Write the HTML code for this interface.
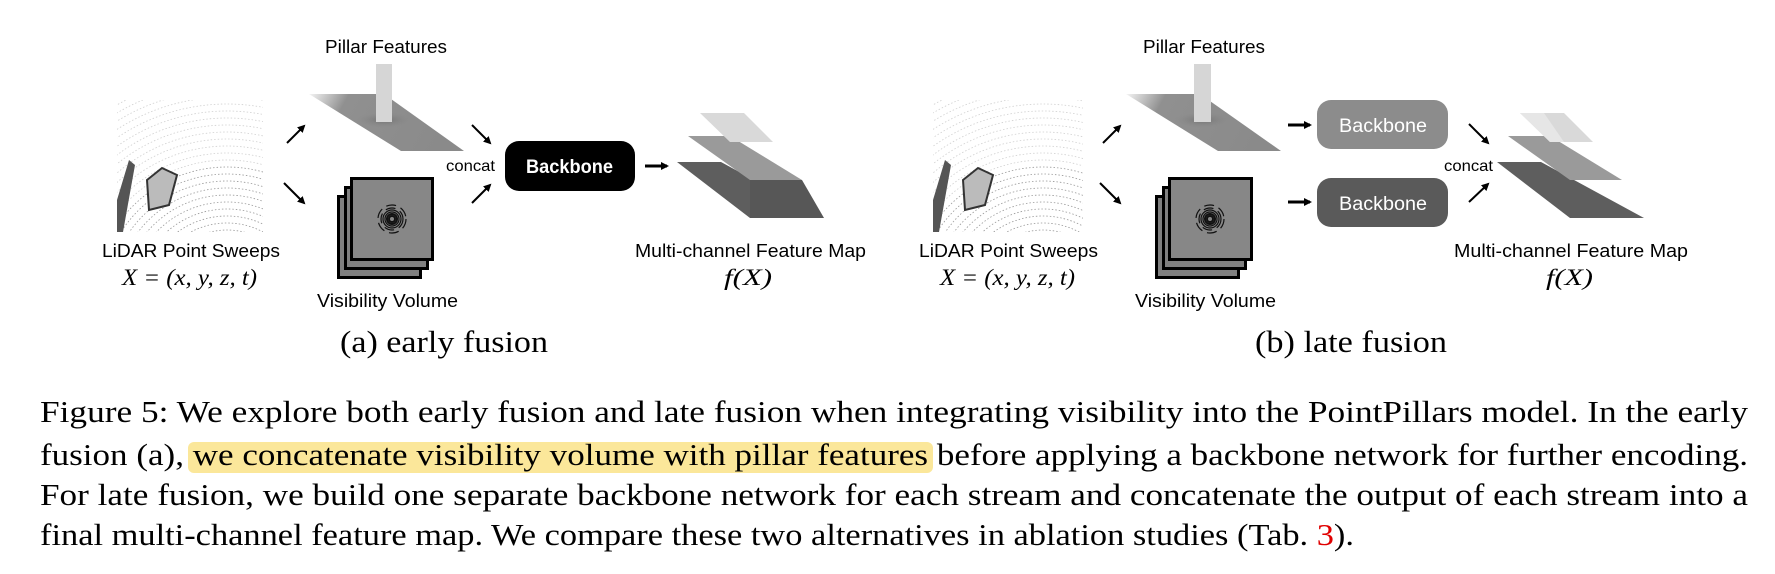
<!DOCTYPE html>
<html><head><meta charset="utf-8">
<style>
html,body{margin:0;padding:0;background:#fff;}
svg{display:block;}
.sans{font-family:"Liberation Sans",Arial,sans-serif;}
.serif{font-family:"Liberation Serif","Times New Roman",serif;}
</style></head>
<body>
<svg id="fig" width="1775" height="574" viewBox="0 0 1775 574" xmlns="http://www.w3.org/2000/svg">
<defs>
  <marker id="ah" markerWidth="8" markerHeight="8" refX="6" refY="4" orient="auto" markerUnits="userSpaceOnUse">
    <path d="M0,0 L8,4 L0,8 Z" fill="#000"/>
  </marker>
  <linearGradient id="planeGrad" x1="0" y1="0" x2="1" y2="0.2">
    <stop offset="0" stop-color="#f4f4f4"/>
    <stop offset="0.25" stop-color="#909090"/>
    <stop offset="1" stop-color="#8a8a8a"/>
  </linearGradient>
  <radialGradient id="shadow" cx="0.5" cy="0.5" r="0.5">
    <stop offset="0" stop-color="#666" stop-opacity="0.7"/>
    <stop offset="1" stop-color="#888" stop-opacity="0"/>
  </radialGradient>
  <clipPath id="lidarClipA"><rect x="117" y="100" width="146" height="132"/></clipPath>
  <clipPath id="lidarClipB"><rect x="933" y="100" width="150" height="132"/></clipPath>
</defs>

<!-- ===== Panel (a) early fusion ===== -->
<g id="panelA">
  <g id="lidarA" clip-path="url(#lidarClipA)"></g>
  <text class="sans" x="102" y="257" font-size="18.5" textLength="178" lengthAdjust="spacingAndGlyphs">LiDAR Point Sweeps</text>
  <text class="serif" x="122" y="285" font-size="23" font-style="italic" textLength="135" lengthAdjust="spacingAndGlyphs">X = (x, y, z, t)</text>

  <line x1="287" y1="143" x2="304" y2="126" stroke="#000" stroke-width="2" marker-end="url(#ah)"/>
  <line x1="284" y1="183" x2="304" y2="203" stroke="#000" stroke-width="2" marker-end="url(#ah)"/>

  <text class="sans" x="325" y="53" font-size="18" textLength="122" lengthAdjust="spacingAndGlyphs">Pillar Features</text>
  <g>
    <polygon points="309,94 384,94 464,151 401,151" fill="url(#planeGrad)"/>
    <ellipse cx="384" cy="120" rx="28" ry="8" fill="url(#shadow)"/>
    <rect x="376" y="64" width="16" height="58" fill="#d6d6d6"/>
  </g>

  <g>
    <rect x="338.5" y="196.5" width="82" height="81" fill="#808080" stroke="#000" stroke-width="3"/>
    <rect x="345.5" y="187.5" width="82" height="81" fill="#808080" stroke="#000" stroke-width="3"/>
    <rect x="351.5" y="178.5" width="81" height="81" fill="#878787" stroke="#000" stroke-width="3"/>
    <g class="rings" transform="translate(392,219)"></g>
  </g>
  <text class="sans" x="317" y="307" font-size="18" textLength="141" lengthAdjust="spacingAndGlyphs">Visibility Volume</text>

  <text class="sans" x="446" y="171" font-size="16" textLength="49" lengthAdjust="spacingAndGlyphs">concat</text>
  <line x1="472" y1="125" x2="490" y2="143" stroke="#000" stroke-width="2" marker-end="url(#ah)"/>
  <line x1="472" y1="203" x2="490" y2="185" stroke="#000" stroke-width="2" marker-end="url(#ah)"/>

  <g>
    <rect x="505" y="141" width="130" height="50" rx="14" fill="#000"/>
    <text class="sans" x="526" y="173" font-size="19" font-weight="bold" fill="#fff" textLength="87" lengthAdjust="spacingAndGlyphs">Backbone</text>
  </g>
  <line x1="645" y1="166" x2="667" y2="166" stroke="#000" stroke-width="3" marker-end="url(#ah)"/>

  <g>
    <polygon points="677,162 721,162 824,218 750,218" fill="#5e5e5e"/>
    <polygon points="750,180 802,180 824,218 750,218" fill="#575757"/>
    <polygon points="688,136 730,136 802,180 750,180" fill="#9a9a9a"/>
    <polygon points="700,113 744,113 773,142 730,142" fill="#d9d9d9"/>
  </g>
  <text class="sans" x="635" y="257" font-size="18.5" textLength="231" lengthAdjust="spacingAndGlyphs">Multi-channel Feature Map</text>
  <text class="serif" x="724" y="285" font-size="23" font-style="italic" textLength="48" lengthAdjust="spacingAndGlyphs">f(X)</text>

  <text class="serif" x="340" y="352" font-size="31" textLength="208" lengthAdjust="spacingAndGlyphs">(a) early fusion</text>
</g>

<!-- ===== Panel (b) late fusion ===== -->
<g id="panelB">
  <g id="lidarB" clip-path="url(#lidarClipB)"></g>
  <text class="sans" x="919" y="257" font-size="18.5" textLength="179" lengthAdjust="spacingAndGlyphs">LiDAR Point Sweeps</text>
  <text class="serif" x="940" y="285" font-size="23" font-style="italic" textLength="135" lengthAdjust="spacingAndGlyphs">X = (x, y, z, t)</text>

  <line x1="1103" y1="143" x2="1120" y2="126" stroke="#000" stroke-width="2" marker-end="url(#ah)"/>
  <line x1="1100" y1="183" x2="1120" y2="203" stroke="#000" stroke-width="2" marker-end="url(#ah)"/>

  <text class="sans" x="1143" y="53" font-size="18" textLength="122" lengthAdjust="spacingAndGlyphs">Pillar Features</text>
  <g>
    <polygon points="1126,94 1200,94 1281,151 1218,151" fill="url(#planeGrad)"/>
    <ellipse cx="1202" cy="120" rx="28" ry="8" fill="url(#shadow)"/>
    <rect x="1194" y="64" width="17" height="58" fill="#d6d6d6"/>
  </g>

  <g>
    <rect x="1156.5" y="196.5" width="82" height="81" fill="#808080" stroke="#000" stroke-width="3"/>
    <rect x="1163.5" y="187.5" width="82" height="81" fill="#808080" stroke="#000" stroke-width="3"/>
    <rect x="1169.5" y="178.5" width="82" height="81" fill="#878787" stroke="#000" stroke-width="3"/>
    <g class="rings" transform="translate(1210,219)"></g>
  </g>
  <text class="sans" x="1135" y="307" font-size="18" textLength="141" lengthAdjust="spacingAndGlyphs">Visibility Volume</text>

  <line x1="1288" y1="125" x2="1310" y2="125" stroke="#000" stroke-width="3" marker-end="url(#ah)"/>
  <line x1="1288" y1="202" x2="1310" y2="202" stroke="#000" stroke-width="3" marker-end="url(#ah)"/>

  <g>
    <rect x="1317" y="100" width="131" height="49" rx="14" fill="#8c8c8c"/>
    <text class="sans" x="1339" y="132" font-size="19" fill="#fff" textLength="88" lengthAdjust="spacingAndGlyphs">Backbone</text>
  </g>
  <g>
    <rect x="1317" y="178" width="131" height="49" rx="14" fill="#5a5a5a"/>
    <text class="sans" x="1339" y="210" font-size="19" fill="#fff" textLength="88" lengthAdjust="spacingAndGlyphs">Backbone</text>
  </g>

  <text class="sans" x="1444" y="171" font-size="16" textLength="49" lengthAdjust="spacingAndGlyphs">concat</text>
  <line x1="1469" y1="124" x2="1488" y2="143" stroke="#000" stroke-width="2" marker-end="url(#ah)"/>
  <line x1="1469" y1="202" x2="1488" y2="184" stroke="#000" stroke-width="2" marker-end="url(#ah)"/>

  <g>
    <polygon points="1497,162 1541,162 1644,218 1570,218" fill="#5e5e5e"/>
    <polygon points="1508,136 1550,136 1622,180 1570,180" fill="#9a9a9a"/>
    <polygon points="1520,113 1564,113 1593,142 1550,142" fill="#d9d9d9"/>
    <polygon points="1520,113 1544,113 1564,142 1550,142" fill="#e6e6e6"/>
  </g>
  <text class="sans" x="1454" y="257" font-size="18.5" textLength="234" lengthAdjust="spacingAndGlyphs">Multi-channel Feature Map</text>
  <text class="serif" x="1546" y="285" font-size="23" font-style="italic" textLength="47" lengthAdjust="spacingAndGlyphs">f(X)</text>

  <text class="serif" x="1255" y="352" font-size="31" textLength="192" lengthAdjust="spacingAndGlyphs">(b) late fusion</text>
</g>

<!-- ===== Caption ===== -->
<g>
  <rect x="188" y="442" width="745" height="31" rx="6" fill="#fbe79a"/>
  <text class="serif" x="40" y="422" font-size="31" textLength="1708" lengthAdjust="spacingAndGlyphs">Figure 5: We explore both early fusion and late fusion when integrating visibility into the PointPillars model.  In the early</text>
  <text class="serif" x="40" y="465" font-size="31" textLength="1708" lengthAdjust="spacingAndGlyphs">fusion (a), we concatenate visibility volume with pillar features before applying a backbone network for further encoding.</text>
  <text class="serif" x="40" y="505" font-size="31" textLength="1708" lengthAdjust="spacingAndGlyphs">For late fusion, we build one separate backbone network for each stream and concatenate the output of each stream into a</text>
  <text class="serif" x="40" y="545" font-size="31" textLength="1314" lengthAdjust="spacingAndGlyphs">final multi-channel feature map. We compare these two alternatives in ablation studies (Tab. <tspan fill="#e00000">3</tspan>).</text>
</g>
</svg>

<script>
(function(){
  var NS = "http://www.w3.org/2000/svg";
  function lidar(id, ox){
    var g = document.getElementById(id);
    var cx = ox + 110, cy = 300;
    for (var r = 70; r < 230; r += 7){
      var p = document.createElementNS(NS, "circle");
      p.setAttribute("cx", cx); p.setAttribute("cy", cy); p.setAttribute("r", r);
      p.setAttribute("fill", "none");
      p.setAttribute("stroke", r < 140 ? "#999" : "#d0d0d0");
      p.setAttribute("stroke-width", "0.8");
      p.setAttribute("stroke-dasharray", "1.5 2");
      
      
      g.appendChild(p);
    }
    var car = document.createElementNS(NS, "polygon");
    car.setAttribute("points", (ox+30)+",180 "+(ox+45)+",168 "+(ox+60)+",175 "+(ox+52)+",205 "+(ox+32)+",210");
    car.setAttribute("fill", "#bbb");
    car.setAttribute("stroke", "#333");
    car.setAttribute("stroke-width", "2");
    
    
    g.appendChild(car);
    var wall = document.createElementNS(NS, "polygon");
    wall.setAttribute("points", ox+",200 "+(ox+12)+",160 "+(ox+18)+",165 "+(ox+6)+",232 "+ox+",232");
    wall.setAttribute("fill", "#555");
    
    
    g.appendChild(wall);
  }
  lidar("lidarA", 117);
  lidar("lidarB", 933);
  var rings = document.querySelectorAll(".rings");
  for (var i = 0; i < rings.length; i++){
    var rg = rings[i];
    var radii = [3, 5, 7, 9, 11, 14];
    for (var k = 0; k < radii.length; k++){
      var c = document.createElementNS(NS, "circle");
      c.setAttribute("cx", 0); c.setAttribute("cy", 0); c.setAttribute("r", radii[k]);
      c.setAttribute("fill", "none");
      c.setAttribute("stroke", "#111");
      c.setAttribute("stroke-width", k < 2 ? "2" : "1.2");
      c.setAttribute("stroke-dasharray", k > 3 ? "10 5" : "none");
      
      
      rg.appendChild(c);
    }
  }
})();
</script>
</body></html>
